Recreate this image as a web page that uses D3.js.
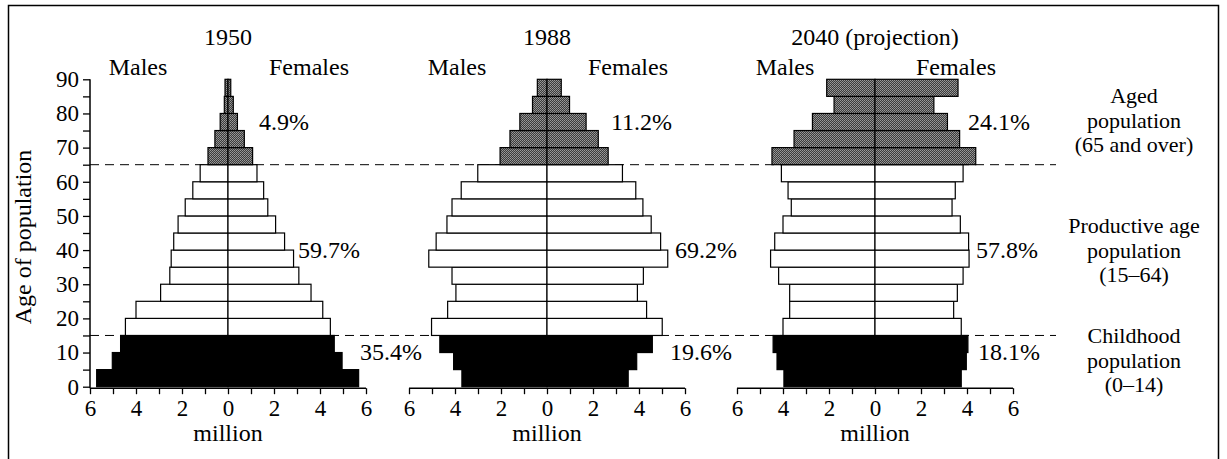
<!DOCTYPE html>
<html>
<head>
<meta charset="utf-8">
<script src="https://cdn.jsdelivr.net/npm/d3@7"></script>
<style>
  body { margin: 0; background: #fff; }
</style>
</head>
<body>
<svg id="chart" width="1227" height="459"></svg>
<script>
// age groups (lower bound of each 5-year band)
const ages = [0, 5, 10, 15, 20, 25, 30, 35, 40, 45, 50, 55, 60, 65, 70, 75, 80, 85]

// population in million, youngest band first
const males1950   = [5.71, 5.03, 4.67, 4.46, 4.0, 2.93, 2.53, 2.47, 2.36, 2.17, 1.86, 1.53, 1.21, 0.87, 0.57, 0.34, 0.16, 0.13]
const females1950 = [5.68, 4.96, 4.62, 4.45, 4.12, 3.61, 3.08, 2.85, 2.46, 2.07, 1.73, 1.55, 1.26, 1.07, 0.71, 0.41, 0.23, 0.12]
const males1988   = [3.70, 4.06, 4.66, 5.02, 4.32, 3.96, 4.13, 5.14, 4.82, 4.35, 4.13, 3.73, 3.01, 2.04, 1.61, 1.18, 0.63, 0.42]
const females1988 = [3.53, 3.90, 4.58, 5.01, 4.33, 3.93, 4.19, 5.25, 4.94, 4.53, 4.17, 3.86, 3.28, 2.66, 2.23, 1.70, 0.98, 0.62]
const males2040   = [3.96, 4.26, 4.43, 4.0, 3.71, 3.71, 4.19, 4.54, 4.36, 4.0, 3.64, 3.78, 4.07, 4.48, 3.52, 2.72, 1.78, 2.10]
const females2040 = [3.75, 3.97, 4.04, 3.75, 3.42, 3.58, 3.83, 4.09, 4.07, 3.71, 3.35, 3.49, 3.83, 4.38, 3.68, 3.15, 2.56, 3.61]

const titles = ["1950", "1988", "2040 (projection)"]
const pctAged = ["4.9%", "11.2%", "24.1%"]
const pctProductive = ["59.7%", "69.2%", "57.8%"]
const pctChild = ["35.4%", "19.6%", "18.1%"]

const xTicks = [-6, -5, -4, -3, -2, -1, 0, 1, 2, 3, 4, 5, 6]
const yTicks = [0, 5, 10, 15, 20, 25, 30, 35, 40, 45, 50, 55, 60, 65, 70, 75, 80, 85, 90]
const groupLabels = [
    ["Aged", "population", "(65 and over)"],
    ["Productive age", "population", "(15\u201364)"],
    ["Childhood", "population", "(0\u201314)"]
]

const FONT = "Liberation Serif"

const svg = d3.select("#chart")
const centers = [228, 547, 875]
const halfWidth = 138
// where the percent labels sit, offsets from panel centre (px)
const pctOffsets = [[31, 70, 132], [64, 128, 123], [93, 101, 103]]

const y = d3.scaleLinear().domain([0, 90]).range([386.7, 79.3])

const panels = [
    { males: males1950, females: females1950 },
    { males: males1988, females: females1988 },
    { males: males2040, females: females2040 }
]

// stippled gray for the aged bands
const defs = svg.append("defs")
const pat = defs.append("pattern")
    .attr("id", "stipple")
    .attr("patternUnits", "userSpaceOnUse")
    .attr("width", 2).attr("height", 2)
pat.append("rect").attr("width", 2).attr("height", 2).attr("fill", "#3c3c3c")
pat.append("rect").attr("width", 1).attr("height", 1).attr("fill", "#9a9a9a")
pat.append("rect").attr("x", 1).attr("y", 1).attr("width", 1).attr("height", 1).attr("fill", "#8a8a8a")

// frame
svg.append("rect")
    .attr("x", 8.5).attr("y", 5.5)
    .attr("width", 1210).attr("height", 480)
    .attr("fill", "none")
    .attr("stroke", "#000")
    .attr("stroke-width", 1.5)

// dashed boundaries at 15 and 65
svg.append("g")
    .selectAll("line")
    .data([15, 65])
    .enter()
    .append("line")
    .attr("x1", 90).attr("x2", 1056)
    .attr("y1", d => y(d)).attr("y2", d => y(d))
    .attr("stroke", "#000")
    .attr("stroke-width", 1)
    .attr("stroke-dasharray", "9,6")

function bandFill(age) {
    if (age >= 65) return "url(#stipple)"
    if (age < 15) return "#000"
    return "#fff"
}

function label(g, x, yy, txt, anchor, size) {
    return g.append("text")
        .attr("x", x).attr("y", yy)
        .attr("dy", "0.35em")
        .attr("text-anchor", anchor || "middle")
        .attr("font-family", FONT)
        .attr("font-size", size || 24)
        .attr("fill", "#000")
        .text(txt)
}

panels.forEach((p, i) => {
    const cx = centers[i]
    const xm = d3.scaleLinear().domain([0, 6]).range([cx, cx - halfWidth])
    const xf = d3.scaleLinear().domain([0, 6]).range([cx, cx + halfWidth])
    const xAxisScale = d3.scaleLinear().domain([-6, 6]).range([cx - halfWidth, cx + halfWidth])

    const g = svg.append("g").attr("class", "panel")

    const rows = ages.map((a, k) => ({ age: a, m: p.males[k], f: p.females[k] }))

    g.selectAll("rect.male")
        .data(rows)
        .enter()
        .append("rect")
        .attr("class", "male")
        .attr("x", d => xm(d.m))
        .attr("y", d => y(d.age + 5))
        .attr("width", d => xm(0) - xm(d.m))
        .attr("height", d => y(d.age) - y(d.age + 5))
        .attr("fill", d => bandFill(d.age))
        .attr("stroke", "#000")
        .attr("stroke-width", 1.2)

    g.selectAll("rect.female")
        .data(rows)
        .enter()
        .append("rect")
        .attr("class", "female")
        .attr("x", cx)
        .attr("y", d => y(d.age + 5))
        .attr("width", d => xf(d.f) - cx)
        .attr("height", d => y(d.age) - y(d.age + 5))
        .attr("fill", d => bandFill(d.age))
        .attr("stroke", "#000")
        .attr("stroke-width", 1.2)

    // x axis
    const xAxis = d3.axisBottom(xAxisScale)
        .tickValues(xTicks)
        .tickSize(6)
        .tickPadding(5)
        .tickFormat(d => d % 2 == 0 ? Math.abs(d) : "")
    const ax = g.append("g")
        .attr("transform", `translate(0,${y(0) + 1.5})`)
        .call(xAxis)
        .attr("font-family", FONT)
        .attr("font-size", 23)
    ax.select(".domain").attr("stroke-width", 1.5).attr("d", `M${cx - halfWidth},0H${cx + halfWidth}`)
    ax.selectAll(".tick line").attr("stroke-width", 1.3)

    label(g, cx, 433, "million")
    label(g, cx, 37, titles[i])
    label(g, cx - 90, 67, "Males")
    label(g, cx + 81, 67, "Females")

    const pcts = [pctAged[i], pctProductive[i], pctChild[i]]
    const pctY = [122, 250, 352]
    pcts.forEach((t, k) => label(g, cx + pctOffsets[i][k], pctY[k], t, "start"))
})

// y axis on the first panel
const yAxis = d3.axisLeft(y)
    .tickValues(yTicks)
    .tickSize(7)
    .tickPadding(4)
    .tickFormat(d => d % 10 == 0 ? d : "")
const ay = svg.append("g")
    .attr("transform", `translate(${centers[0] - halfWidth},0)`)
    .call(yAxis)
    .attr("font-family", FONT)
    .attr("font-size", 23)
ay.select(".domain").attr("stroke-width", 1.5).attr("d", `M0,${y(90)}V${y(0) + 1.5}`)
ay.selectAll(".tick line").attr("stroke-width", 1.3)

svg.append("text")
    .attr("transform", "translate(31,237) rotate(-90)")
    .attr("text-anchor", "middle")
    .attr("font-family", FONT)
    .attr("font-size", 24)
    .attr("fill", "#000")
    .text("Age of population")

// group labels on the right, three lines each
const groupMid = [120, 250, 360]
const lineGap = 24.5
groupLabels.forEach((lines, k) => {
    lines.forEach((t, j) => label(svg, 1134, groupMid[k] + (j - 1) * lineGap, t, "middle", 22))
})
</script>
</body>
</html>
